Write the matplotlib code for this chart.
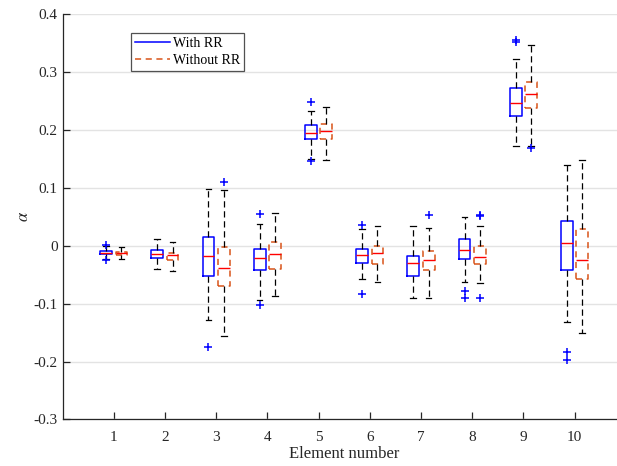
import matplotlib.pyplot as plt
import numpy as np
from matplotlib.lines import Line2D

plt.rcParams['font.family'] = ['Liberation Serif', 'DejaVu Serif']
plt.rcParams['mathtext.fontset'] = 'stix'

elements = np.arange(1, 11)

# boxplot summaries: with RR
with_whislo = [-0.023, -0.041, -0.129, -0.094, 0.150, -0.057, -0.091, -0.063, 0.173, -0.131]
with_q1 = [-0.015, -0.022, -0.052, -0.042, 0.184, -0.030, -0.053, -0.023, 0.224, -0.042]
with_med = [-0.012, -0.015, -0.018, -0.022, 0.195, -0.016, -0.030, -0.007, 0.246, 0.005]
with_q3 = [-0.009, -0.008, 0.015, -0.005, 0.208, -0.006, -0.017, 0.011, 0.272, 0.043]
with_whishi = [-0.001, 0.011, 0.098, 0.038, 0.233, 0.029, 0.034, 0.049, 0.322, 0.140]
with_fliers = [[0.002, -0.025], [], [-0.175], [0.054, -0.102], [0.248, 0.146],
               [0.035, -0.084], [], [-0.079, -0.090], [0.356, 0.351], [-0.183, -0.197]]

# boxplot summaries: without RR
wo_whislo = [-0.023, -0.044, -0.156, -0.086, 0.148, -0.063, -0.090, -0.065, 0.172, -0.151]
wo_q1 = [-0.016, -0.025, -0.069, -0.041, 0.185, -0.031, -0.042, -0.031, 0.237, -0.057]
wo_med = [-0.012, -0.016, -0.039, -0.015, 0.198, -0.012, -0.025, -0.019, 0.262, -0.025]
wo_q3 = [-0.010, -0.012, -0.002, 0.007, 0.210, -0.001, -0.009, -0.001, 0.282, 0.029]
wo_whishi = [-0.002, 0.007, 0.096, 0.056, 0.240, 0.034, 0.030, 0.034, 0.346, 0.148]
wo_fliers = [[], [], [0.110], [], [], [], [0.053], [0.053, 0.051, -0.091], [0.168], []]


def make_stats(lo, q1, med, q3, hi, fl):
    return [dict(whislo=a, q1=b, med=c, q3=d, whishi=e, fliers=f)
            for a, b, c, d, e, f in zip(lo, q1, med, q3, hi, fl)]


fig = plt.figure(figsize=(6.17, 4.66), dpi=100)
ax = fig.add_axes([0.1013, 0.0998, 0.913, 0.870])

common = dict(widths=0.23, capwidths=0.11, manage_ticks=False,
              whiskerprops=dict(color='k', ls=(0, (5, 3)), lw=0.9),
              capprops=dict(color='k', lw=0.9),
              medianprops=dict(color='#ff0000', lw=1),
              flierprops=dict(marker='+', markeredgecolor='#0000ff',
                              markersize=6, markeredgewidth=1.1, ls='none'))

ax.bxp(make_stats(with_whislo, with_q1, with_med, with_q3, with_whishi, with_fliers),
       positions=elements - 0.15,
       boxprops=dict(color='#0000ff', lw=1.1), **common)
ax.bxp(make_stats(wo_whislo, wo_q1, wo_med, wo_q3, wo_whishi, wo_fliers),
       positions=elements + 0.15,
       boxprops=dict(color='#d95319', lw=1.1, ls=(0, (4, 3))), **common)

ax.set_xlim(0, 11)
ax.set_ylim(-0.3, 0.4)
ax.set_xticks(elements)
ax.set_xticklabels([str(e) for e in elements])
ax.set_yticks(np.round(np.arange(-0.3, 0.41, 0.1), 1))
ax.set_yticklabels(['-0.3', '-0.2', '-0.1', '0', '0.1', '0.2', '0.3', '0.4'])
ax.yaxis.grid(True, color='#e3e3e3', lw=1)
ax.set_axisbelow(True)

for side in ['top', 'right']:
    ax.spines[side].set_visible(False)
for side in ['left', 'bottom']:
    ax.spines[side].set_color('#262626')
    ax.spines[side].set_linewidth(0.9)
ax.tick_params(direction='in', length=5, width=0.9, color='#262626',
               labelsize=11, labelcolor='#262626')
ax.tick_params(axis='x', pad=8)

ax.set_xlabel('Element number', fontsize=12, color='#262626', labelpad=2)
ax.set_ylabel(r'$\alpha$', fontsize=12, color='#262626', labelpad=1)

handles = [Line2D([], [], color='#0000ff', lw=1.1),
           Line2D([], [], color='#d95319', lw=1.1, ls=(0, (4, 3)))]
leg = ax.legend(handles, ['With RR', 'Without RR'], loc='upper left',
                bbox_to_anchor=(0.122, 0.953), fontsize=10, frameon=True,
                fancybox=False, edgecolor='#262626', handlelength=2.5,
                handletextpad=0.2, borderpad=0.3, labelspacing=0.25,
                borderaxespad=0)
leg.get_frame().set_linewidth(0.9)

fig.savefig('out.png', dpi=100)
